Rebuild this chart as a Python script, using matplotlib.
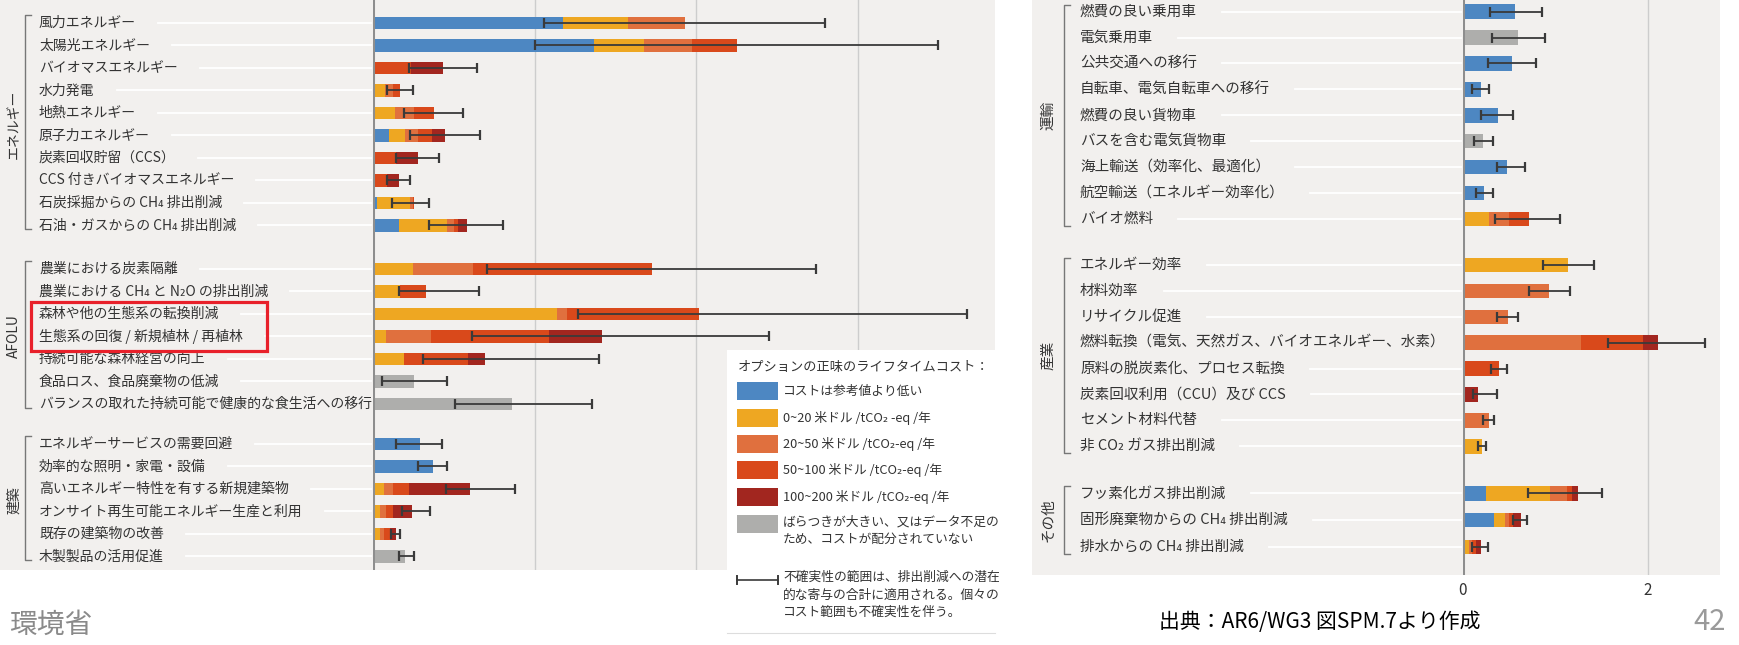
import matplotlib
matplotlib.use("Agg")
import numpy as np
import matplotlib.pyplot as plt
from matplotlib.lines import Line2D
from matplotlib.patches import Rectangle
from matplotlib.transforms import blended_transform_factory, IdentityTransform

plt.rcParams['font.family'] = ['Noto Sans CJK JP', 'DejaVu Sans']

W, H = 1740, 645  # output size in px (dpi 100)

# ---------------- data: left panel (エネルギー / AFOLU / 建築) ----------------
left_labels = [
    "風力エネルギー", "太陽光エネルギー", "バイオマスエネルギー", "水力発電",
    "地熱エネルギー", "原子力エネルギー", "炭素回収貯留（CCS）",
    "CCS 付きバイオマスエネルギー", "石炭採掘からの CH₄ 排出削減",
    "石油・ガスからの CH₄ 排出削減",
    "農業における炭素隔離", "農業における CH₄ と N₂O の排出削減",
    "森林や他の生態系の転換削減", "生態系の回復 / 新規植林 / 再植林",
    "持続可能な森林経営の向上", "食品ロス、食品廃棄物の低減",
    "バランスの取れた持続可能で健康的な食生活への移行",
    "エネルギーサービスの需要回避", "効率的な照明・家電・設備",
    "高いエネルギー特性を有する新規建築物", "オンサイト再生可能エネルギー生産と利用",
    "既存の建築物の改善", "木製製品の活用促進",
]
# segment widths per cost class (GtCO2-eq/yr)
left_blue   = [2.35, 2.74, 0, 0, 0, 0.20, 0, 0, 0.05, 0.32,
               0, 0, 0, 0, 0, 0, 0,
               0.58, 0.74, 0, 0, 0, 0]
left_orange = [0.81, 0.62, 0, 0.15, 0.27, 0.19, 0, 0, 0.41, 0.60,
               0.50, 0.34, 2.28, 0.16, 0.38, 0, 0,
               0, 0, 0.14, 0.09, 0.09, 0]
left_light  = [0.70, 0.59, 0, 0.10, 0.24, 0.17, 0, 0, 0.03, 0.08,
               0.74, 0, 0.12, 0.56, 0, 0, 0,
               0, 0, 0.11, 0.07, 0.05, 0]
left_red    = [0, 0.55, 0.47, 0.09, 0.24, 0.17, 0.28, 0.17, 0.02, 0.05,
               2.21, 0.31, 1.63, 1.46, 0.79, 0, 0,
               0, 0, 0.20, 0.09, 0.07, 0]
left_dark   = [0, 0, 0.40, 0, 0, 0.16, 0.28, 0.15, 0, 0.11,
               0, 0, 0, 0.66, 0.22, 0, 0,
               0, 0, 0.75, 0.23, 0.07, 0]
left_gray   = [0, 0, 0, 0, 0, 0, 0, 0, 0, 0,
               0, 0, 0, 0, 0, 0.51, 1.72,
               0, 0, 0, 0, 0, 0.39]
left_err_lo = [2.12, 2.01, 0.44, 0.17, 0.38, 0.46, 0.28, 0.17, 0.23, 0.69,
               1.41, 0.32, 2.54, 1.22, 0.62, 0.11, 1.02,
               0.29, 0.56, 0.90, 0.36, 0.22, 0.32]
left_err_hi = [5.60, 6.99, 1.29, 0.49, 1.12, 1.33, 0.82, 0.46, 0.69, 1.61,
               5.49, 1.31, 7.35, 4.90, 2.80, 0.91, 2.71,
               0.85, 0.92, 1.76, 0.71, 0.34, 0.51]
left_groups = [("エネルギー", 0, 9), ("AFOLU", 10, 16), ("建築", 17, 22)]

# ---------------- data: right panel (運輸 / 産業 / その他) ----------------
right_labels = [
    "燃費の良い乗用車", "電気乗用車", "公共交通への移行", "自転車、電気自転車への移行",
    "燃費の良い貨物車", "バスを含む電気貨物車", "海上輸送（効率化、最適化）",
    "航空輸送（エネルギー効率化）", "バイオ燃料",
    "エネルギー効率", "材料効率", "リサイクル促進",
    "燃料転換（電気、天然ガス、バイオエネルギー、水素）",
    "原料の脱炭素化、プロセス転換", "炭素回収利用（CCU）及び CCS",
    "セメント材料代替", "非 CO₂ ガス排出削減",
    "フッ素化ガス排出削減", "固形廃棄物からの CH₄ 排出削減", "排水からの CH₄ 排出削減",
]
right_blue   = [0.56, 0, 0.53, 0.20, 0.38, 0, 0.48, 0.23, 0,
                0, 0, 0, 0, 0, 0, 0, 0,
                0.25, 0.33, 0.02]
right_orange = [0, 0, 0, 0, 0, 0, 0, 0, 0.28,
                1.14, 0, 0, 0, 0, 0, 0, 0.21,
                0.69, 0.12, 0.04]
right_light  = [0, 0, 0, 0, 0, 0, 0, 0, 0.22,
                0, 0.93, 0.49, 1.28, 0, 0, 0.28, 0,
                0.18, 0.05, 0.04]
right_red    = [0, 0, 0, 0, 0, 0, 0, 0, 0.21,
                0, 0, 0, 0.67, 0.39, 0, 0, 0,
                0.06, 0.04, 0.04]
right_dark   = [0, 0, 0, 0, 0, 0, 0, 0, 0,
                0, 0, 0, 0.16, 0, 0.16, 0, 0,
                0.06, 0.09, 0.06]
right_gray   = [0, 0.60, 0, 0, 0, 0.22, 0, 0, 0,
                0, 0, 0, 0, 0, 0, 0, 0,
                0, 0, 0]
right_err_lo = [0.29, 0.31, 0.27, 0.10, 0.19, 0.12, 0.37, 0.14, 0.35,
                0.86, 0.71, 0.37, 1.57, 0.30, 0.11, 0.22, 0.16,
                0.70, 0.54, 0.10]
right_err_hi = [0.85, 0.89, 0.79, 0.28, 0.54, 0.32, 0.67, 0.32, 1.05,
                1.42, 1.16, 0.60, 2.62, 0.48, 0.37, 0.34, 0.25,
                1.50, 0.69, 0.27]
right_groups = [("運輸", 0, 8), ("産業", 9, 16), ("その他", 17, 19)]

right_ticks = [0, 2]

legend_labels = [
    "コストは参考値より低い",
    "0~20 米ドル /tCO₂ -eq /年",
    "20~50 米ドル /tCO₂-eq /年",
    "50~100 米ドル /tCO₂-eq /年",
    "100~200 米ドル /tCO₂-eq /年",
    "ばらつきが大きい、又はデータ不足の\nため、コストが配分されていない",
]

COLORS = ["#4d87c2", "#eea722", "#e0703e", "#d9491b", "#a2261f", "#aeaeac"]
BG = "#f2f0ee"
TXT = "#333333"


def fx(px):
    return px / W


def fy(py):
    return 1 - py / H


def draw_panel(fig, ax, labels, segs, lo, hi, rows, groups, label_x, bracket_x,
               group_x, fs, grid_vals, ext):
    lo, hi = np.array(lo), np.array(hi)
    for v in grid_vals:
        ax.axvline(v, color="#cdcdcd", lw=1.0, zorder=0)
    ax.axvline(0, color="#8e8e8e", lw=2.2, zorder=3)

    left = np.zeros(len(rows))
    for seg, c in zip(segs, COLORS):
        seg = np.array(seg)
        ax.barh(rows, seg, left=left, height=0.56, color=c, lw=0, zorder=2)
        left += seg

    ax.errorbar((lo + hi) / 2, rows, xerr=(hi - lo) / 2, fmt="none",
                ecolor="#3a3a3a", elinewidth=1.3, capsize=3.5, capthick=1.6,
                zorder=4)

    tr = blended_transform_factory(fig.transFigure, ax.transData)
    texts = []
    for r, lab in zip(rows, labels):
        t = ax.text(fx(label_x), r, lab, transform=tr, ha="left", va="center",
                    fontsize=fs, color=TXT)
        texts.append(t)

    for name, i0, i1 in groups:
        y0, y1 = rows[i0] - ext[0], rows[i1] + ext[1]
        ax.plot([fx(bracket_x + 6), fx(bracket_x), fx(bracket_x), fx(bracket_x + 6)],
                [y0, y0, y1, y1], transform=tr, clip_on=False,
                color="#777777", lw=1.0)
        ax.text(fx(group_x), (rows[i0] + rows[i1]) / 2, name, transform=tr,
                rotation=90, ha="center", va="center", fontsize=fs, color=TXT)
    return texts


fig = plt.figure(figsize=(W / 100, H / 100), dpi=100)
fig.patch.set_facecolor("white")

# panel backgrounds
fig.add_artist(Rectangle((0, fy(570)), fx(995), 570 / H, transform=fig.transFigure,
                         facecolor=BG, edgecolor="none", zorder=-2))
fig.add_artist(Rectangle((fx(1032), fy(575)), fx(1720 - 1032), 575 / H,
                         transform=fig.transFigure, facecolor=BG,
                         edgecolor="none", zorder=-2))

# left panel
axL = fig.add_axes([fx(373), fy(570), fx(995 - 373), 570 / H])
axL.set_facecolor("none")
left_rows = np.concatenate([np.arange(10), 10.93 + np.arange(7), 18.71 + np.arange(6)])
axL.set_xlim(0, 7.70)
axL.set_ylim(24.31, -1.02)
textsL = draw_panel(fig, axL, left_labels,
                    [left_blue, left_orange, left_light, left_red, left_dark, left_gray],
                    left_err_lo, left_err_hi, left_rows, left_groups,
                    label_x=39, bracket_x=25, group_x=14, fs=10,
                    grid_vals=[2, 4, 6], ext=(0.36, 0.17))
axL.set_xticks([])
axL.set_yticks([])
for s in axL.spines.values():
    s.set_visible(False)

# right panel
axR = fig.add_axes([fx(1463), fy(575), fx(1720 - 1463), 575 / H])
axR.set_facecolor("none")
right_rows = np.concatenate([np.arange(9), 9.78 + np.arange(8), [18.6, 19.63, 20.67]])
axR.set_xlim(0, 2.78)
axR.set_ylim(21.75, -0.45)
textsR = draw_panel(fig, axR, right_labels,
                    [right_blue, right_orange, right_light, right_red, right_dark, right_gray],
                    right_err_lo, right_err_hi, right_rows, right_groups,
                    label_x=1080, bracket_x=1064, group_x=1048, fs=10.5,
                    grid_vals=[2], ext=(0.27, 0.27))
axR.set_xticks(right_ticks)
axR.set_xticklabels([str(v) for v in right_ticks])
axR.tick_params(axis="x", length=0, labelsize=11, pad=5, colors=TXT)
axR.set_yticks([])
for s in axR.spines.values():
    s.set_visible(False)

# red highlight box
fig.add_artist(Rectangle((fx(31), fy(351)), fx(267 - 31), (351 - 302) / H,
                         transform=fig.transFigure, fill=False,
                         edgecolor="#e8202a", lw=2.3, zorder=5))

# legend box
fig.add_artist(Rectangle((fx(727), fy(640)), fx(1000 - 727), (640 - 350) / H,
                         transform=fig.transFigure, facecolor="white",
                         edgecolor="none", zorder=3))
fig.add_artist(Line2D([fx(727), fx(995)], [fy(633), fy(633)],
                      transform=fig.transFigure, color="#dddddd", lw=0.8, zorder=4))
fig.text(fx(738), fy(368), "オプションの正味のライフタイムコスト：", fontsize=9.5,
         color=TXT, va="center", ha="left", zorder=6)
item_y = [391, 418, 444, 470, 497, 524]
for c, lab, yy in zip(COLORS, legend_labels, item_y):
    fig.add_artist(Rectangle((fx(737), fy(yy + 9)), fx(41), 18 / H,
                             transform=fig.transFigure, facecolor=c,
                             edgecolor="none", zorder=6))
    fig.text(fx(783), fy(yy), lab, fontsize=9.2, color=TXT, va="top" if "\n" in lab else "center",
             ha="left", zorder=6, linespacing=1.45,
             position=(fx(783), fy(yy - 9) if "\n" in lab else fy(yy)))
fig.add_artist(Line2D([fx(737), fx(778)], [fy(580), fy(580)], transform=fig.transFigure,
                      color="#3a3a3a", lw=1.2, zorder=6))
for xx in (737, 778):
    fig.add_artist(Line2D([fx(xx), fx(xx)], [fy(576), fy(584)], transform=fig.transFigure,
                          color="#3a3a3a", lw=1.4, zorder=6))
fig.text(fx(783), fy(571), "不確実性の範囲は、排出削減への潜在\n的な寄与の合計に適用される。個々の\nコスト範囲も不確実性を伴う。",
         fontsize=9.2, color=TXT, va="top", ha="left", linespacing=1.45, zorder=6)

# footer
fig.text(fx(9), fy(625), "環境省", fontsize=20, color="#8a8a8a", ha="left", va="center")
fig.text(fx(1320), fy(622), "出典：AR6/WG3 図SPM.7より作成", fontsize=15,
         color="black", ha="center", va="center")
fig.text(fx(1726), fy(622), "42", fontsize=21, color="#9a9a9a", ha="right", va="center")

# white leader lines from each label to the zero axis
fig.canvas.draw()
renderer = fig.canvas.get_renderer()
for texts, ax, gap in ((textsL, axL, 22), (textsR, axR, 25)):
    x_axis = ax.transData.transform((0, 0))[0]
    for t in texts:
        bb = t.get_window_extent(renderer)
        x0 = bb.x1 + gap
        if x0 < x_axis - 5:
            yc = (bb.y0 + bb.y1) / 2
            fig.add_artist(Line2D([x0, x_axis - 2], [yc, yc], transform=IdentityTransform(),
                                  color="white", lw=1.3, zorder=-1))

fig.savefig("out.png", dpi=100, facecolor="white")
